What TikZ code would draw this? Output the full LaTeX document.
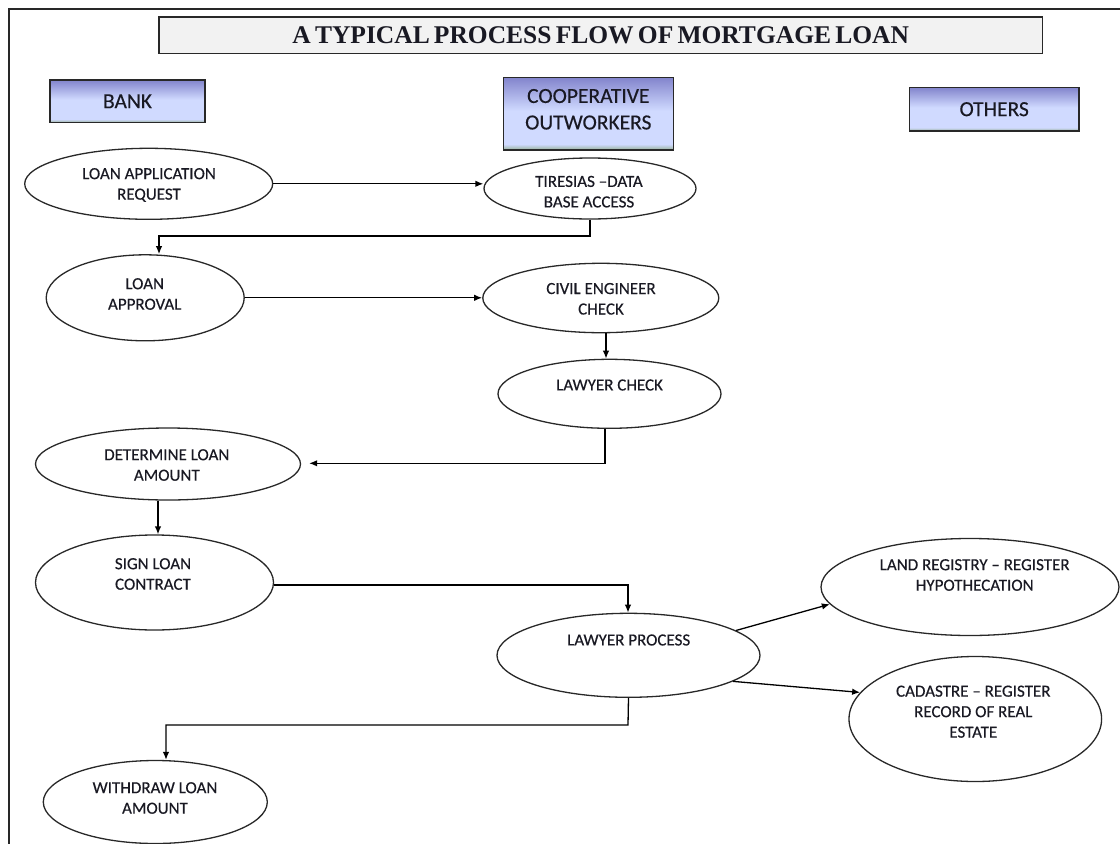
\documentclass[tikz,border=0pt]{standalone}
\usepackage{fontspec}
\setmainfont{Carlito}
\newfontfamily\lblfont{Carlito}[FakeBold=0.35]
\newfontfamily\titlefont{Liberation Serif}
\usetikzlibrary{shapes.geometric,arrows.meta}
\definecolor{htop}{RGB}{130,132,204}
\definecolor{hmid}{RGB}{208,218,255}
\definecolor{hbot}{RGB}{150,175,150}
\definecolor{titlefill}{RGB}{242,242,242}
\definecolor{edge}{RGB}{40,40,40}
\definecolor{ink}{RGB}{25,25,35}
\pgfdeclareverticalshading{hdrshade}{100bp}{color(0bp)=(hbot); color(25bp)=(hbot); color(29bp)=(hmid); color(52bp)=(hmid); color(75bp)=(htop); color(100bp)=(htop)}
\newcommand{\tightspace}{\spaceskip=4.2pt\relax}
\begin{document}
\begin{tikzpicture}[x=1pt,y=-1pt,
  ell/.style={draw=edge, line width=1.3pt, shape=ellipse, inner sep=0pt, fill=white},
  txt/.style={align=center, inner sep=0pt, font=\lblfont\fontsize{17}{20.5}\selectfont, text=ink},
  hdr/.style={draw=edge, line width=1.6pt, shading=hdrshade, align=center, inner sep=0pt, text=ink, font=\lblfont\fontsize{21.5}{26.5}\selectfont},
  arr/.style={draw=black, line width=1.3pt, -{Latex[length=8pt,width=6.5pt]}},
]
\useasboundingbox (0,0) rectangle (1120,844);
\fill[white] (0,0) rectangle (1120,844);
% frame
\draw[line width=2pt, draw=edge] (9,844) -- (9,9.3) -- (1120,9.3);

% title
\node[draw=edge, line width=1.6pt, fill=titlefill, minimum width=883.3pt, minimum height=36.6pt, inner sep=0pt, text=ink,
      font=\titlefont\fontsize{25.5}{30}\selectfont\bfseries] (title) at (600.7,35) {\tightspace A TYPICAL PROCESS FLOW OF MORTGAGE LOAN};

% headers
\node[hdr, minimum width=155pt, minimum height=42.7pt] (bank) at (127.5,101.3) {BANK};
\node[hdr, minimum width=170pt, minimum height=72.7pt, text depth=9pt] (coop) at (588.3,113.7) {COOPERATIVE\\OUTWORKERS};
\node[hdr, minimum width=169.7pt, minimum height=43.7pt] (others) at (994.2,109.2) {OTHERS};

% ellipses
\node[ell, minimum width=248pt, minimum height=71pt] (e1) at (148.7,183.8) {};
\node[ell, minimum width=212pt, minimum height=61pt] (e2) at (590,188.5) {};
\node[ell, minimum width=198pt, minimum height=86pt] (e3) at (145.2,297.8) {};
\node[ell, minimum width=236pt, minimum height=69.4pt] (e4) at (600.8,298) {};
\node[ell, minimum width=223pt, minimum height=69pt] (e5) at (609.5,393.8) {};
\node[ell, minimum width=265pt, minimum height=72pt] (e6) at (168,464) {};
\node[ell, minimum width=238pt, minimum height=95pt] (e7) at (154.5,582.5) {};
\node[ell, minimum width=263pt, minimum height=84pt] (e8) at (628.5,655.3) {};
\node[ell, minimum width=298pt, minimum height=97pt] (e9) at (970,587) {};
\node[ell, minimum width=252.6pt, minimum height=125pt] (e10) at (975.3,719) {};
\node[ell, minimum width=224pt, minimum height=83pt] (e11) at (155.3,802) {};

% texts
\node[txt] (t1) at (149,185) {LOAN APPLICATION\\REQUEST};
\node[txt] (t2) at (589,191.7) {TIRESIAS –DATA\\BASE ACCESS};
\node[txt] (t3) at (144.7,294) {LOAN\\APPROVAL};
\node[txt] (t4) at (601,298.8) {CIVIL ENGINEER\\CHECK};
\node[txt] (t5) at (609.6,385) {LAWYER CHECK};
\node[txt] (t6) at (166.8,465) {DETERMINE LOAN\\AMOUNT};
\node[txt] (t7) at (153,574) {SIGN LOAN\\CONTRACT};
\node[txt] (t8) at (628.7,640) {LAWYER PROCESS};
\node[txt] (t9) at (974.7,575) {LAND REGISTRY – REGISTER\\HYPOTHECATION};
\node[txt] (t10) at (973.3,711.7) {CADASTRE – REGISTER\\RECORD OF REAL\\ESTATE};
\node[txt] (t11) at (155,798) {WITHDRAW LOAN\\AMOUNT};

% connectors
\coordinate (k2a) at (590,236);
\coordinate (k2b) at (159,236);
\coordinate (k4) at (606,0);
\coordinate (k5) at (605,463.3);
\coordinate (k6) at (158,0);
\coordinate (k7) at (628,585);
\coordinate (k10a) at (628,725);
\coordinate (k10b) at (166,725);

\draw[arr] (e1.east) -- (e1.east -| e2.west);
\draw[arr] (e2.south) -- (k2a) -- (k2b) -- (k2b |- e3.north);
\draw[arr] (e3.east) -- (e3.east -| e4.west);
\draw[arr] (e4.south -| k4) -- (e5.north -| k4);
\draw[arr, shorten >=8pt] (e5.south -| k5) -- (k5) -- (k5 -| e6.east);
\draw[arr] (e6.south -| k6) -- (e7.north -| k6);
\draw[arr] (e7.east |- k7) -- (k7) -- (k7 |- e8.north);
\draw[arr] (e8.13) -- (e9.187);
\draw[arr] (e8.-14) -- (e10.167);
\draw[arr] (e8.south) -- (k10a) -- (k10b) -- (k10b |- e11.north);
\end{tikzpicture}
\end{document}
